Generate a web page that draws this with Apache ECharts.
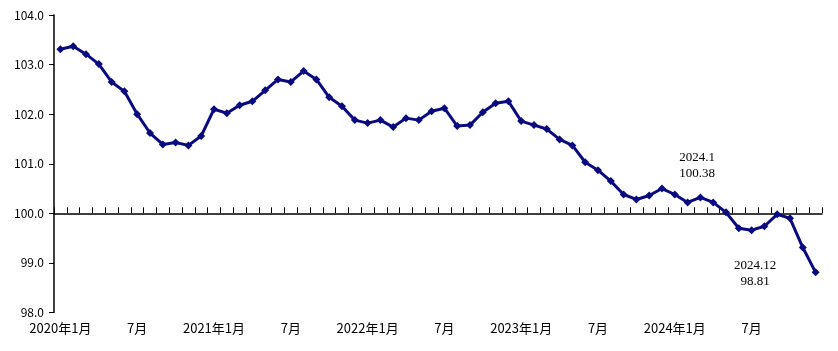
<!DOCTYPE html>
<html>
<head>
<meta charset="utf-8">
<script src="https://cdn.jsdelivr.net/npm/echarts@6/dist/echarts.min.js"></script>
<style>
    html, body { margin: 0; padding: 0; background: #fff; }
    #chart { width: 838px; height: 351px; }
</style>
</head>
<body>
<div id="chart"></div>
<script>
// 月份：2020年1月 ~ 2024年12月
var years = [2020, 2021, 2022, 2023, 2024]
var months = []
years.forEach(function (y) {
    for (var m = 1; m <= 12; m++) {
        months.push(m === 1 ? y + '年1月' : m + '月')
    }
})

var values = [
    103.31, 103.37, 103.21, 103.01, 102.65, 102.46, 102.00, 101.62, 101.39, 101.43, 101.37, 101.56,
    102.10, 102.02, 102.18, 102.26, 102.48, 102.70, 102.65, 102.87, 102.70, 102.34, 102.16, 101.88,
    101.82, 101.88, 101.74, 101.92, 101.88, 102.06, 102.12, 101.76, 101.78, 102.04, 102.22, 102.26,
    101.86, 101.78, 101.70, 101.49, 101.37, 101.03, 100.87, 100.65, 100.38, 100.28, 100.36, 100.50,
    100.38, 100.22, 100.32, 100.22, 100.02, 99.70, 99.66, 99.74, 99.98, 99.90, 99.31, 98.81
]

var yTicks = [98, 99, 100, 101, 102, 103, 104]

var chart = echarts.init(document.getElementById('chart'))

var option = {
    backgroundColor: '#fff',
    animation: false,
    grid: [
        { left: 54, right: 16, top: 15, bottom: 38.5 },
        // 100.0 处的横轴
        { left: 54, right: 16, top: 15, bottom: 137.7 }
    ],
    xAxis: [
        {
            type: 'category',
            gridIndex: 0,
            data: months,
            boundaryGap: true,
            axisLine: { show: false },
            axisTick: { show: false },
            axisLabel: {
                interval: 5,
                margin: 9,
                color: '#000',
                fontSize: 13,
                fontFamily: 'Noto Sans CJK SC'
            }
        },
        {
            type: 'category',
            gridIndex: 1,
            data: months,
            boundaryGap: true,
            axisLine: { show: true, lineStyle: { color: '#000', width: 1.5 } },
            axisTick: { show: true, inside: true, length: 6, interval: 0, lineStyle: { color: '#000' } },
            axisLabel: { show: false }
        }
    ],
    yAxis: [
        {
            type: 'value',
            gridIndex: 0,
            min: yTicks[0],
            max: yTicks[yTicks.length - 1],
            interval: 1,
            axisLine: { show: true, lineStyle: { color: '#000', width: 1.5 } },
            axisTick: { show: true, length: 5, lineStyle: { color: '#000' } },
            splitLine: { show: false },
            axisLabel: {
                margin: 10,
                color: '#000',
                fontSize: 12,
                fontFamily: 'Noto Sans CJK SC',
                formatter: function (v) { return v.toFixed(1) }
            }
        },
        {
            type: 'value',
            gridIndex: 1,
            show: false
        }
    ],
    series: [
        {
            type: 'line',
            xAxisIndex: 0,
            yAxisIndex: 0,
            data: values,
            symbol: 'diamond',
            symbolSize: 8,
            lineStyle: { color: '#0a0a80', width: 3 },
            itemStyle: { color: '#0a0a80' }
        }
    ],
    graphic: [
        {
            type: 'text',
            left: 697 - 30,
            top: 150,
            style: {
                text: '2024.1\n' + values[48].toFixed(2),
                width: 60,
                align: 'center',
                textAlign: 'center',
                fill: '#000',
                font: '13px "Liberation Serif"',
                lineHeight: 16
            }
        },
        {
            type: 'text',
            left: 755 - 30,
            top: 258,
            style: {
                text: '2024.12\n' + values[59].toFixed(2),
                width: 60,
                align: 'center',
                textAlign: 'center',
                fill: '#000',
                font: '13px "Liberation Serif"',
                lineHeight: 16
            }
        }
    ]
}

chart.setOption(option)
</script>
</body>
</html>
